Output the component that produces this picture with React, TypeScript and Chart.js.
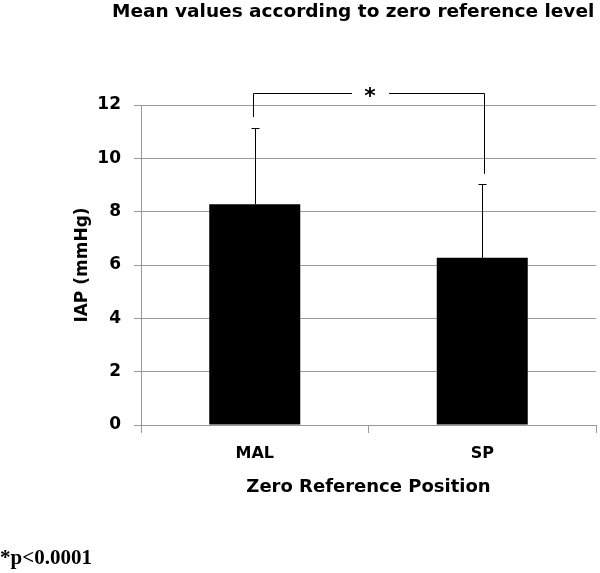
import React, { useEffect, useRef } from 'react';
import { Chart, registerables } from 'chart.js';

Chart.register(...registerables);

const categories = ['MAL', 'SP'];
const meanValues = [8.28, 6.27];
const upperErrorValues = [11.12, 9.03];
const yTickValues = [0, 2, 4, 6, 8, 10, 12];
const bracketLevel = 12.45;
const bracketEnds = [11.55, 9.42];
const significanceMark = '*';
const titleText = 'Mean values according to zero reference level';
const yTitleText = 'IAP (mmHg)';
const xTitleText = 'Zero Reference Position';
const footnoteText = '*p<0.0001';

const GRID = '#9a9a9a';
const SANS = '"DejaVu Sans", sans-serif';

const annotPlugin = {
  id: 'annot',
  afterDatasetsDraw(chart: any) {
    const ctx = chart.ctx;
    const y = chart.scales.y;
    const meta = chart.getDatasetMeta(0);
    ctx.save();
    ctx.strokeStyle = '#000';
    ctx.lineWidth = 1;
    // error bars (upper only)
    meta.data.forEach((el: any, i: number) => {
      const x = Math.round(el.x) + 0.5;
      const yTop = el.y;
      const yErr = Math.round(y.getPixelForValue(upperErrorValues[i])) + 0.5;
      ctx.beginPath();
      ctx.moveTo(x, yTop);
      ctx.lineTo(x, yErr);
      ctx.moveTo(x - 4, yErr);
      ctx.lineTo(x + 4, yErr);
      ctx.stroke();
    });
    // significance bracket
    const xl = Math.round(meta.data[0].x) - 1.5;
    const xr = Math.round(meta.data[1].x) + 2.5;
    const yb = Math.round(y.getPixelForValue(bracketLevel)) + 0.5;
    const yl = y.getPixelForValue(bracketEnds[0]);
    const yr = y.getPixelForValue(bracketEnds[1]);
    const xm = (xl + xr) / 2;
    ctx.beginPath();
    ctx.moveTo(xl, yl);
    ctx.lineTo(xl, yb);
    ctx.lineTo(xm - 17, yb);
    ctx.moveTo(xm + 20, yb);
    ctx.lineTo(xr, yb);
    ctx.lineTo(xr, yr);
    ctx.stroke();
    ctx.fillStyle = '#000';
    ctx.font = 'bold 22px ' + SANS;
    ctx.textAlign = 'center';
    ctx.textBaseline = 'middle';
    ctx.fillText(significanceMark, xm + 1, yb + 4);
    ctx.restore();
  },
  afterDraw(chart: any) {
    const ctx = chart.ctx;
    ctx.save();
    ctx.fillStyle = '#000';
    ctx.textAlign = 'left';
    ctx.textBaseline = 'alphabetic';
    ctx.font = 'bold 18.5px ' + SANS;
    ctx.fillText(titleText, 112, 17);
    ctx.font = 'bold 21px "Liberation Serif", serif';
    ctx.fillText(footnoteText, 0, 564);
    ctx.restore();
  },
};

export default function App() {
  const ref = useRef<HTMLCanvasElement | null>(null);
  useEffect(() => {
    if (!ref.current) return;
    const chart = new Chart(ref.current, {
      type: 'bar',
      data: {
        labels: categories,
        datasets: [
          {
            data: meanValues,
            backgroundColor: '#000',
            borderWidth: 0,
            barPercentage: 0.4,
            categoryPercentage: 1,
          },
        ],
      },
      options: {
        responsive: false,
        animation: false,
        layout: { padding: { top: 105, left: 0, right: 4, bottom: 68 } },
        plugins: {
          legend: { display: false },
          tooltip: { enabled: false },
          title: { display: false },
        },
        scales: {
          x: {
            offset: true,
            afterFit: (s: any) => {
              s.height = 80;
            },
            grid: {
              display: true,
              drawOnChartArea: false,
              offset: true,
              tickLength: 8,
              color: GRID,
            },
            border: { color: GRID, width: 1 },
            ticks: {
              color: '#000',
              padding: 11,
              font: { family: SANS, size: 16, weight: 'bold' },
            },
            title: {
              display: true,
              text: xTitleText,
              color: '#000',
              font: { family: SANS, size: 18, weight: 'bold' },
              padding: { top: 0, bottom: 7 },
            },
          },
          y: {
            min: 0,
            max: 12,
            afterFit: (s: any) => {
              s.width = 141;
            },
            afterBuildTicks: (s: any) => {
              s.ticks = yTickValues.map((v) => ({ value: v }));
            },
            grid: { color: GRID, tickLength: 7 },
            border: { color: GRID, width: 1 },
            ticks: {
              color: '#000',
              padding: 13,
              font: { family: SANS, size: 17, weight: 'bold' },
            },
            title: {
              display: true,
              text: yTitleText,
              color: '#000',
              font: { family: SANS, size: 17, weight: 'bold' },
              padding: { top: 72, bottom: 0 },
            },
          },
        },
      },
      plugins: [annotPlugin],
    });
    return () => chart.destroy();
  }, []);
  return (
    <div style={{ position: 'absolute', left: 0, top: 0, width: 600, height: 573, background: '#fff' }}>
      <canvas ref={ref} width={600} height={573} style={{ display: 'block' }} />
    </div>
  );
}
